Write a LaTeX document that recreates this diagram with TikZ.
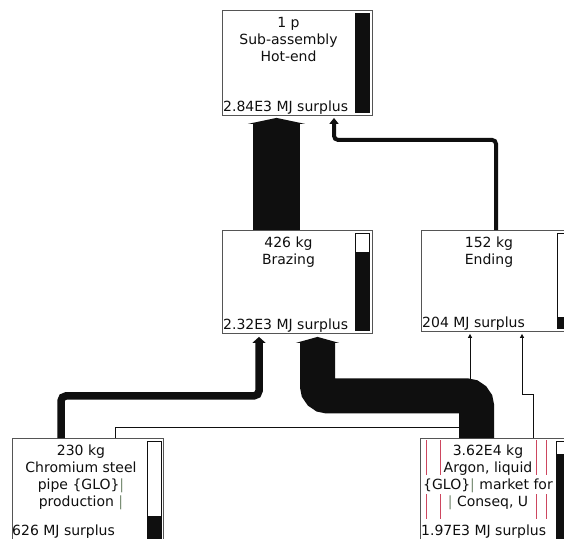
\documentclass[tikz,border=0pt]{standalone}
\usepackage{fontspec}
\setmainfont{DejaVu Sans}
\usetikzlibrary{arrows.meta, positioning}

\definecolor{ink}{RGB}{15,15,15}
\definecolor{frame}{RGB}{85,85,85}
\definecolor{pipe}{RGB}{120,140,115}
\definecolor{redrule}{RGB}{205,70,95}

\tikzset{
    line join=round,
    procbox/.style={
        draw=frame,
        fill=white,
        line width=0.9pt,
        anchor=north west,
        inner sep=0pt
    },
    procname/.style={
        anchor=north,
        align=center,
        inner sep=0pt,
        text=ink,
        font=\fontsize{14}{17}\selectfont
    },
    procscore/.style={
        anchor=base west,
        inner sep=0pt,
        text=ink,
        font=\fontsize{14}{17}\selectfont
    },
    bartrack/.style={
        draw=ink,
        line width=0.7pt
    },
    massflow/.style={
        draw=ink,
        line width=#1
    },
    massflow/.default=1pt,
    thinflow/.style={
        draw=ink,
        line width=1pt,
        -{Triangle[length=4pt, width=4pt]}
    },
    artefact/.style={
        draw=redrule,
        line width=0.8pt
    }
}

\begin{document}
\begin{tikzpicture}[x=1pt, y=-1pt]

\clip (0,0) rectangle (564,538);
\fill[white] (0,0) rectangle (564,538);

% process boxes
\node[procbox, minimum width=150pt, minimum height=105pt] (hotend) at (222,10) {};
\node[procbox, minimum width=150pt, minimum height=103pt] (brazing) at (222,230) {};
\node[procbox, minimum width=160pt, minimum height=101pt] (ending) at (421,230) {};
\node[procbox, minimum width=151pt, minimum height=110pt] (chromium) at (12,438) {};
\node[procbox, minimum width=160pt, minimum height=110pt] (argon) at (420,438) {};

% indicator bars: x / top / start of black / bottom
\foreach \bx/\by/\bs/\be in {355/13/13/112, 355/233/252/330, 557/233/317/328, 147/441/516/545, 556/441/454/545} {
    \fill[white] (\bx,\by) rectangle (\bx+14,\be);
    \fill[ink] (\bx,\bs) rectangle (\bx+14,\be);
    \draw[bartrack] (\bx,\by) rectangle (\bx+14,\be);
}

% red rules in the argon label
\foreach \rx in {426,440,536,546} {
    \draw[artefact] (\rx,440) -- (\rx,475);
    \draw[artefact] (\rx,494) -- (\rx,519);
}

\node[procname] (hotend-name) at (288.5,17) {1 p\\Sub-assembly\\Hot-end};
\node[procname] (brazing-name) at (288.5,237) {426 kg\\Brazing};
\node[procname] (ending-name) at (489,237) {152 kg\\Ending};
\node[procname] (chromium-name) at (81,445) {230 kg\\Chromium steel\\pipe \{GLO\}\textcolor{pipe}{|}\\production \textcolor{pipe}{|}};
\node[procname] (argon-name) at (488,445) {3.62E4 kg\\Argon, liquid\\\{GLO\}\textcolor{pipe}{|} market for\\\textcolor{pipe}{|} Conseq, U};

\node[procscore] (hotend-score) at (223,111) {2.84E3 MJ surplus};
\node[procscore] (brazing-score) at (223,329) {2.32E3 MJ surplus};
\node[procscore] (ending-score) at (422,327) {204 MJ surplus};
\node[procscore] (chromium-score) at (12,535) {626 MJ surplus};
\node[procscore] (argon-score) at (421,535) {1.97E3 MJ surplus};

% thin flows
\draw[thinflow] ([xshift=103pt]chromium.north west) |- ([xshift=49pt, yshift=-96pt]ending.south west) -- ([xshift=49pt, yshift=-2pt]ending.south west);
\draw[thinflow] ([xshift=113pt]argon.north west) |- ([xshift=101pt, yshift=-63pt]ending.south west) -- ([xshift=101pt, yshift=-2pt]ending.south west);

% heavy flows
\draw[massflow=4pt, rounded corners=4pt, -{Triangle[length=6pt, width=9pt]}] ([xshift=75pt]ending.north west) |- ([xshift=112pt, yshift=-24pt]hotend.south west) -- ([xshift=112pt, yshift=-2pt]hotend.south west);
\draw[massflow=7.5pt, rounded corners=5pt, -{Triangle[length=6pt, width=13pt]}] ([xshift=49pt]chromium.north west) |- ([xshift=37pt, yshift=-62pt]brazing.south west) -- ([xshift=37pt, yshift=-3pt]brazing.south west);
\draw[massflow=35pt, rounded corners=10pt, -{Triangle[length=6pt, width=43pt]}] ([xshift=56.5pt]argon.north west) |- ([xshift=95.5pt, yshift=-62pt]brazing.south west) -- ([xshift=95.5pt, yshift=-3pt]brazing.south west);
\draw[massflow=47pt, -{Triangle[length=6pt, width=57pt]}] ([xshift=54.5pt]brazing.north west) -- ([xshift=54.5pt, yshift=-2pt]hotend.south west);

\end{tikzpicture}
\end{document}
